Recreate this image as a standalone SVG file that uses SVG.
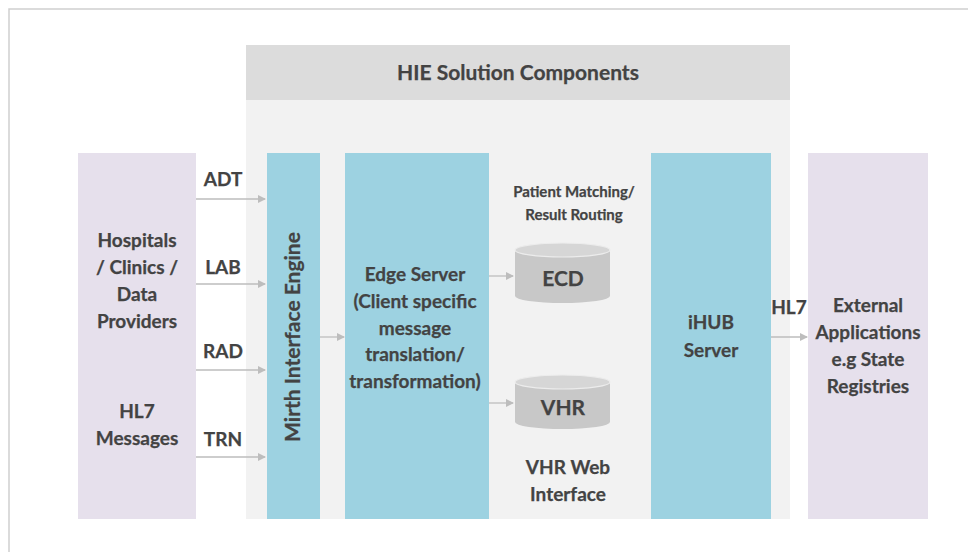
<svg xmlns="http://www.w3.org/2000/svg" width="968" height="552" viewBox="0 0 968 552">
<defs>
<style>
text{font-family:Lato,"Open Sans","Liberation Sans",sans-serif;font-weight:bold;fill:#434343;text-anchor:middle;stroke:#434343;stroke-width:0.25}
.t18{font-size:19px}
.t15{font-size:15px}
.purple{fill:#E6E0EC}
.blue{fill:#9DD2E1}
.conn{stroke:#BDBDBD;stroke-width:1.3;fill:none;marker-end:url(#ah)}
.cyl{fill:#C8C8C8}
.cyltop{fill:#D6D6D6;stroke:#ECECEC;stroke-width:1.2}
</style>
<marker id="ah" markerWidth="8" markerHeight="8" refX="7" refY="4" orient="auto" markerUnits="userSpaceOnUse">
<path d="M0,0 L8,4 L0,8 Z" fill="#BDBDBD"/>
</marker>
</defs>
<rect width="968" height="552" fill="#fff"/>
<path d="M9,552 V9 H968" fill="none" stroke="#CFCFCF" stroke-width="1.5"/>
<g id="hie">
<rect x="246" y="100" width="544" height="419" fill="#F2F2F2"/>
<rect x="246" y="45" width="544" height="55" fill="#DCDCDC"/>
<text x="518" y="80" style="font-size:21px">HIE Solution Components</text>
</g>
<g id="providers">
<rect class="purple" x="78" y="153" width="118" height="366"/>
<text class="t18" x="137" y="247">Hospitals</text>
<text class="t18" x="137" y="274">/ Clinics /</text>
<text class="t18" x="137" y="301">Data</text>
<text class="t18" x="137" y="328">Providers</text>
<text class="t18" x="137" y="418">HL7</text>
<text class="t18" x="137" y="445">Messages</text>
</g>
<g id="mirth">
<rect class="blue" x="267" y="153" width="53" height="366"/>
<text transform="translate(300,337) rotate(-90)" style="font-size:21px">Mirth Interface Engine</text>
</g>
<g id="edge">
<rect class="blue" x="345" y="153" width="144" height="366"/>
<text class="t18" x="415" y="281">Edge Server</text>
<text class="t18" x="415" y="308">(Client specific</text>
<text class="t18" x="415" y="335">message</text>
<text class="t18" x="415" y="361">translation/</text>
<text class="t18" x="415" y="388">transformation)</text>
</g>
<g id="matching">
<text class="t15" x="574" y="197">Patient Matching/</text>
<text class="t15" x="574" y="220">Result Routing</text>
</g>
<g id="ecd">
<path class="cyl" d="M515,250 V296 A47.5,7 0 0 0 610,296 V250 Z"/>
<ellipse class="cyltop" cx="562.5" cy="250" rx="47.5" ry="7"/>
<text x="563" y="286" style="font-size:21px">ECD</text>
</g>
<g id="vhr">
<path class="cyl" d="M515,382 V422 A47.5,7 0 0 0 610,422 V382 Z"/>
<ellipse class="cyltop" cx="562.5" cy="382" rx="47.5" ry="7"/>
<text x="563" y="415" style="font-size:21px">VHR</text>
</g>
<g id="vhrweb">
<text class="t18" x="568" y="474">VHR Web</text>
<text class="t18" x="568" y="501">Interface</text>
</g>
<g id="ihub">
<rect class="blue" x="651" y="153" width="120" height="366"/>
<text class="t18" x="711" y="329">iHUB</text>
<text class="t18" x="711" y="357">Server</text>
</g>
<g id="external">
<rect class="purple" x="808" y="153" width="120" height="366"/>
<text class="t18" x="868" y="312">External</text>
<text class="t18" x="868" y="339">Applications</text>
<text class="t18" x="868" y="366">e.g State</text>
<text class="t18" x="868" y="393">Registries</text>
</g>
<g id="connectors">
<path class="conn" d="M196,199 H265"/>
<path class="conn" d="M196,284 H265"/>
<path class="conn" d="M196,370 H265"/>
<path class="conn" d="M196,457 H265"/>
<path class="conn" d="M320,337 H344"/>
<path class="conn" d="M489,276 H513"/>
<path class="conn" d="M489,403 H513"/>
<path class="conn" d="M771,337 H807"/>
<text class="t18" x="223" y="186">ADT</text>
<text class="t18" x="223" y="274">LAB</text>
<text class="t18" x="223" y="358">RAD</text>
<text class="t18" x="223" y="446">TRN</text>
<text class="t18" x="789" y="314">HL7</text>
</g>
</svg>
